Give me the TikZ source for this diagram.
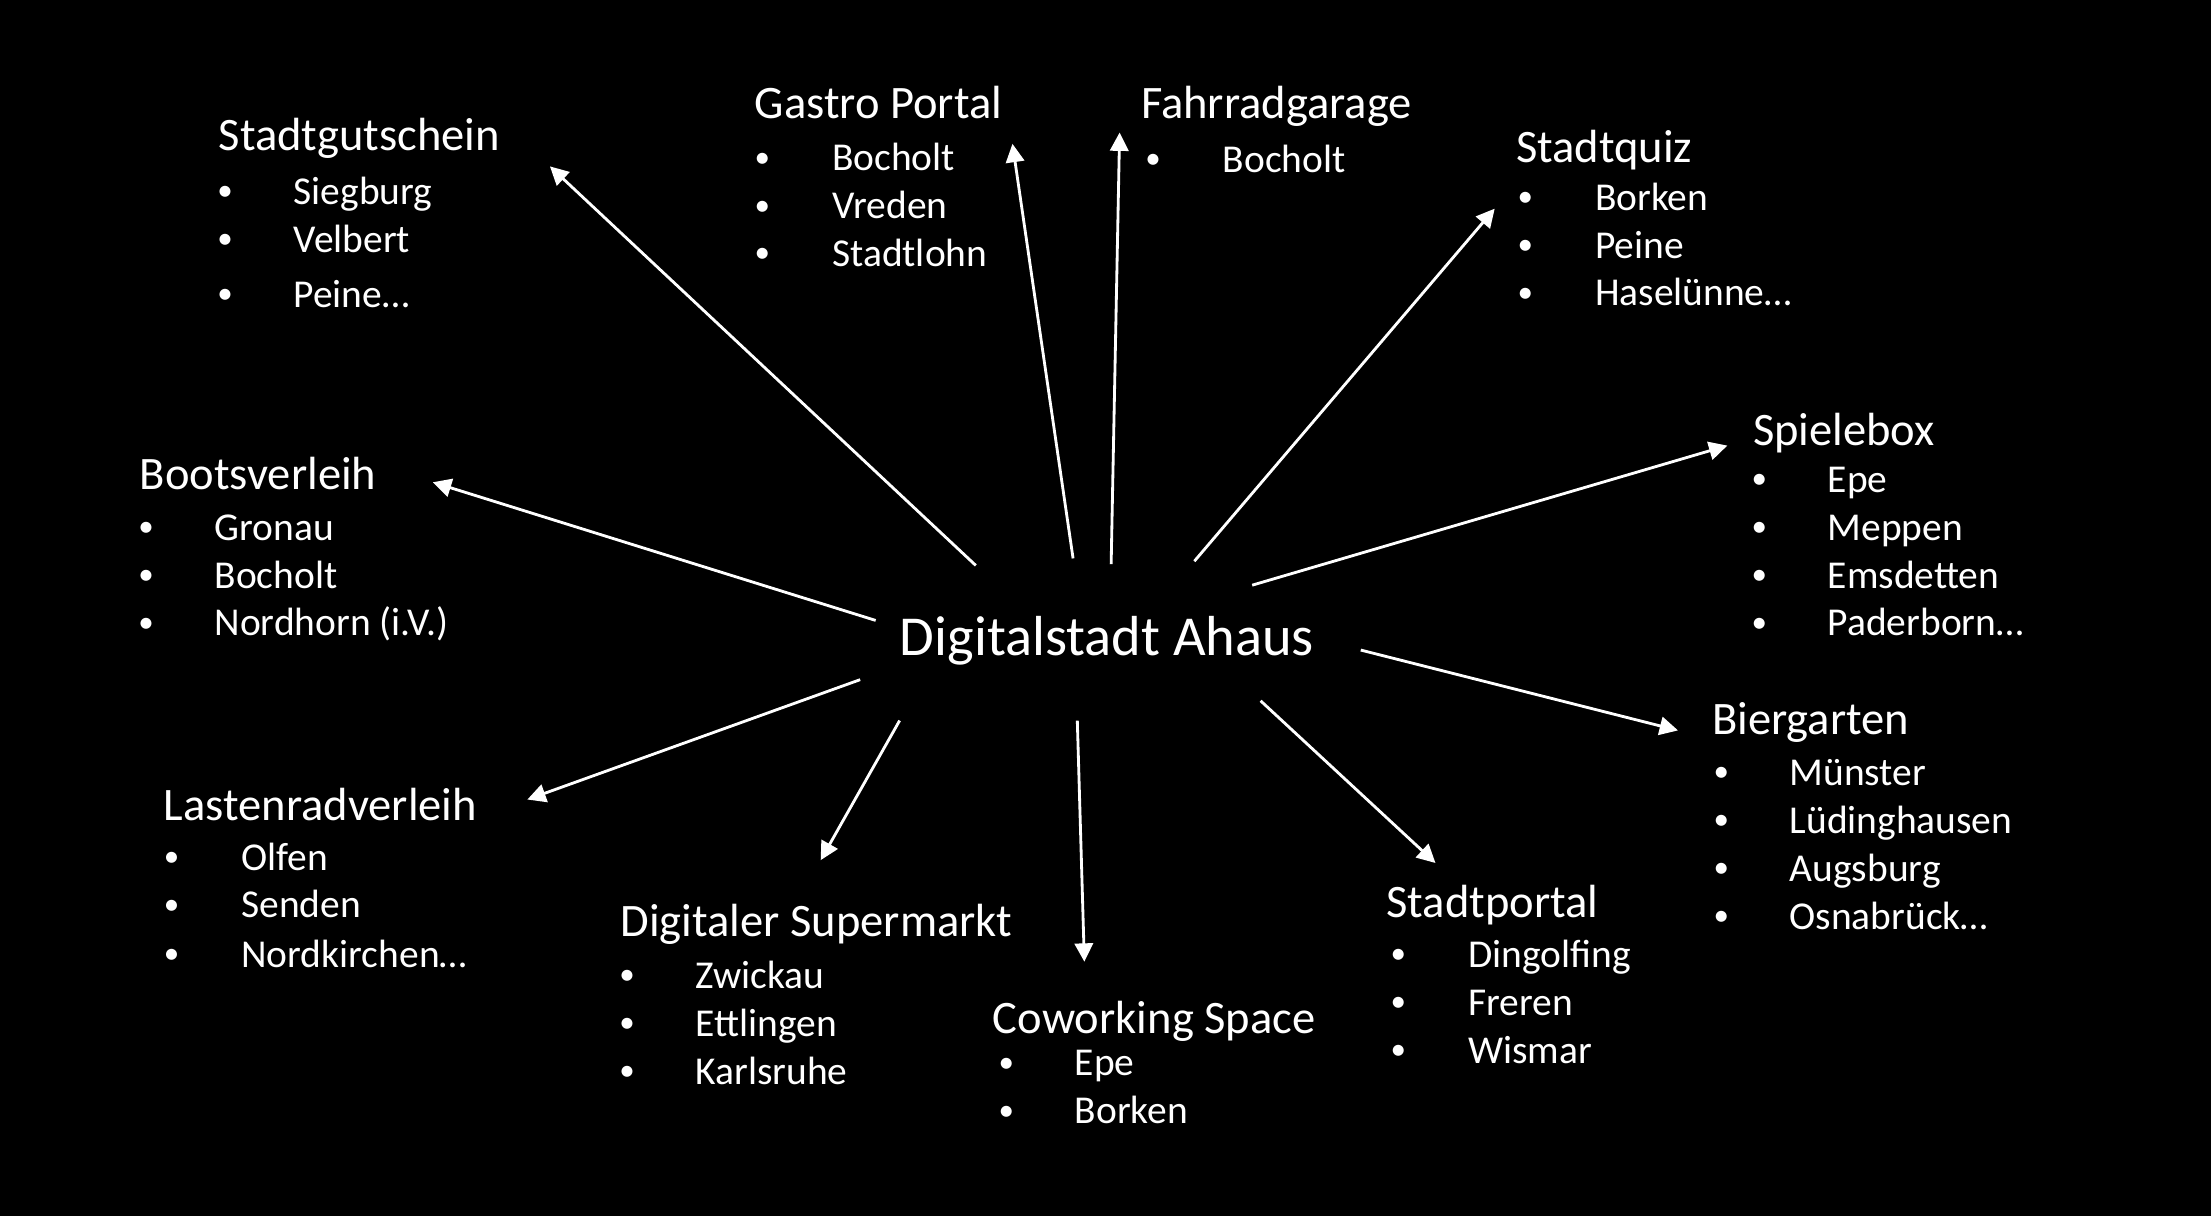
\documentclass[tikz,border=0pt]{standalone}
\usepackage{fontspec}
\setmainfont{Carlito}
\usetikzlibrary{arrows.meta}
\tikzset{
  head/.style={anchor=base west, inner sep=0pt, text=white, font=\fontsize{33}{38}\selectfont},
  itm/.style={anchor=base west, inner sep=0pt, text=white, font=\fontsize{28}{34}\selectfont},
  bul/.style={anchor=base west, inner sep=0pt, text=white, font=\fontsize{22}{26}\selectfont, yshift=2.5pt},
  ttl/.style={anchor=base west, inner sep=0pt, text=white, font=\fontsize{40}{48}\selectfont},
  conn/.style={draw=white, line width=2pt, -{Triangle[length=13pt,width=13pt]}}
}
\newcommand\mklist[4]{%
  \foreach \yy/\txt [count=\k] in {#4} {
    \node[bul] (#1b\k) at (#2,\yy) {•};
    \node[itm] (#1i\k) at (#3,\yy) {\txt};
  }}
\begin{document}
\begin{tikzpicture}[x=1pt,y=-1pt]
\fill[black] (0,0) rectangle (1568,862);
\useasboundingbox (0,0) rectangle (1568,862);

\node[ttl] (center) at (638,465) {Digitalstadt Ahaus};

\node[head] (sg) at (155,107) {Stadtgutschein};
\mklist{sg}{154}{208}{145/Siegburg,179/Velbert,218/Peine…}

\node[head] (gp) at (535,84) {Gastro Portal};
\mklist{gp}{535}{590}{121/Bocholt,155/Vreden,189/Stadtlohn}

\node[head] (fg) at (809,84) {Fahrradgarage};
\mklist{fg}{812}{867}{122/Bocholt}

\node[head] (sq) at (1075,115) {Stadtquiz};
\mklist{sq}{1076}{1131}{149/Borken,183/Peine,217/Haselünne…}

\node[head] (sb) at (1243,316) {Spielebox};
\mklist{sb}{1242}{1296}{349/Epe,383/Meppen,417/Emsdetten,451/Paderborn…}

\node[head] (bv) at (99,347) {Bootsverleih};
\mklist{bv}{98}{152}{383/Gronau,417/Bocholt,451/Nordhorn (i.V.)}

\node[head] (bg) at (1214,521) {Biergarten};
\mklist{bg}{1215}{1269}{557/Münster,591/Lüdinghausen,625/Augsburg,659/Osnabrück…}

\node[head] (lr) at (116,582) {Lastenradverleih};
\mklist{lr}{116}{171}{617/Olfen,651/Senden,686/Nordkirchen…}

\node[head] (ds) at (440,664) {Digitaler Supermarkt};
\mklist{ds}{439}{493}{701/Zwickau,735/Ettlingen,769/Karlsruhe}

\node[head] (cs) at (704,733) {Coworking Space};
\mklist{cs}{708}{762}{763/Epe,797/Borken}

\node[head] (sp) at (983,651) {Stadtportal};
\mklist{sp}{986}{1041}{686/Dingolfing,720/Freren,754/Wismar}

% arrow end points
\coordinate (s1) at (692,401);  \coordinate (e1) at (390,118);
\coordinate (s2) at (761,396);  \coordinate (e2) at (718,102);
\coordinate (s3) at (788,400);  \coordinate (e3) at (794,94);
\coordinate (s4) at (847,398);  \coordinate (e4) at (1060,148);
\coordinate (s5) at (888,415);  \coordinate (e5) at (1225,316);
\coordinate (s6) at (621,440);  \coordinate (e6) at (307,342);
\coordinate (s7) at (965,461);  \coordinate (e7) at (1190,518);
\coordinate (s8) at (610,482);  \coordinate (e8) at (374,567);
\coordinate (s9) at (638,511);  \coordinate (e9) at (582,610);
\coordinate (s10) at (764,511); \coordinate (e10) at (769,682);
\coordinate (s11) at (894,497); \coordinate (e11) at (1018,612);
\foreach \i in {1,...,11} { \draw[conn] (s\i) -- (e\i); }
\end{tikzpicture}
\end{document}
